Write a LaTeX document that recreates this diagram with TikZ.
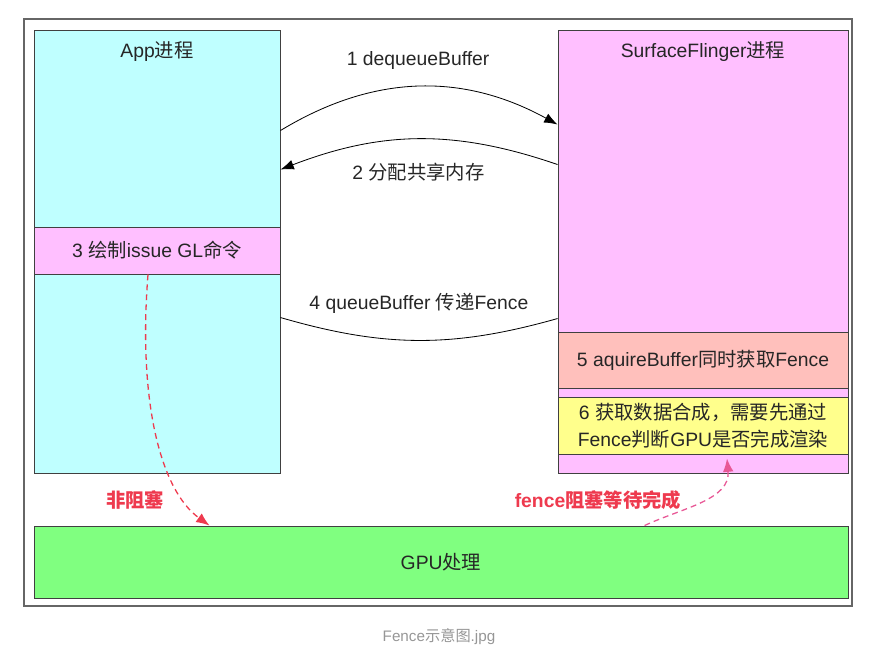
\documentclass[tikz,border=0pt]{standalone}
\usepackage{fontspec}
\setmainfont{Liberation Sans}
\newfontfamily\cjk{Noto Sans CJK SC}
\newcommand{\zh}[1]{{\cjk #1}}
\usepackage{tikz}
\usetikzlibrary{calc, positioning, arrows.meta}

\definecolor{appcyan}{RGB}{191,255,255}
\definecolor{sfpink}{RGB}{255,191,255}
\definecolor{acqsalmon}{RGB}{255,192,188}
\definecolor{compyellow}{RGB}{255,255,140}
\definecolor{gpugreen}{RGB}{128,255,128}
\definecolor{warnred}{RGB}{238,58,78}
\definecolor{waitpink}{RGB}{232,88,150}
\definecolor{capgray}{RGB}{150,150,150}

\begin{document}
\begin{tikzpicture}[
        x=0.03cm, y=0.03cm,
        font=\fontsize{16.5}{19}\selectfont,
        text=black!85,
        box/.style={draw=black!75, line width=0.8pt, inner sep=0pt, align=center},
        arrow/.style={-{Latex[length=4mm, width=3mm]}, line width=0.7pt},
        flow/.style={line width=0.7pt},
        gpuarrow/.style={-{Latex[length=4mm, width=3.2mm]}, dashed, dash pattern=on 5pt off 3.5pt, line width=1.1pt},
        note/.style={font=\fontsize{16.5}{19}\selectfont\bfseries}
    ]
        \useasboundingbox (0,0) rectangle (878,-652);

        % Outer frame
        \node[draw=black!60, line width=1.3pt, minimum width=828*0.03cm, minimum height=587*0.03cm] (frame) at (438,-312.5) {};

        % Process boxes
        \node[box, fill=appcyan, minimum width=246*0.03cm, minimum height=443*0.03cm] (app) at (157,-251.5) {};
        \node[box, fill=sfpink, minimum width=290*0.03cm, minimum height=443*0.03cm] (sf) at (703,-251.5) {};
        \node (apptitle) at (157,-52) {App\zh{进程}};
        \node (sftitle) at (703,-52) {SurfaceFlinger\zh{进程}};

        % Bands inside the boxes
        \node[box, fill=sfpink, minimum width=246*0.03cm, minimum height=47*0.03cm] (drawcmd) at (157,-250.5) {3 \zh{绘制}issue GL\zh{命令}};
        \node[box, fill=acqsalmon, minimum width=290*0.03cm, minimum height=56*0.03cm] (acquire) at (703,-360) {5 aquireBuffer\zh{同时获取}Fence};
        \node[box, fill=compyellow, minimum width=290*0.03cm, minimum height=57*0.03cm, font=\fontsize{16.5}{23}\selectfont] (compose) at (703,-425.5) {6 \zh{获取数据合成，需要先通过}\\Fence\zh{判断}GPU\zh{是否完成渲染}};

        % GPU
        \node[box, fill=gpugreen, minimum width=814*0.03cm, minimum height=72*0.03cm] (gpu) at (441,-562) {GPU\zh{处理}};

        % Messages between the processes
        \draw[arrow] ($(app.north east)+(0,-101)$) to[bend left=30] node[above=0.4cm] {1 dequeueBuffer} ($(sf.north west)+(0,-95)$);
        \draw[arrow] ($(sf.north west)+(0,-135)$) to[bend right=20] node[below=0.6cm] {2 \zh{分配共享内存}} ($(app.north east)+(0,-140)$);
        \draw[flow] ($(app.north east)+(0,-288)$) to[bend right=16] node[above=0.68cm] {4 queueBuffer \zh{传递}Fence} ($(sf.north west)+(0,-289)$);

        % GPU side
        \draw[gpuarrow, warnred] ($(drawcmd.south)+(-9,0)$) .. controls (138,-400) and (160,-490) .. ($(gpu.north west)+(176,0)$);
        \draw[gpuarrow, waitpink] ($(gpu.north west)+(611,0)$) to[out=25, in=-85] ($(compose.south)+(24,-4)$);
        \node[note, text=warnred] (nonblock) at (135,-500) {\zh{非阻塞}};
        \node[note, text=warnred] (waitnote) at (598,-500) {fence\zh{阻塞等待完成}};

        % Caption
        \node[text=capgray, font=\fontsize{13}{15}\selectfont] (caption) at (439,-637) {Fence\zh{示意图}.jpg};

    \end{tikzpicture}
\end{document}
